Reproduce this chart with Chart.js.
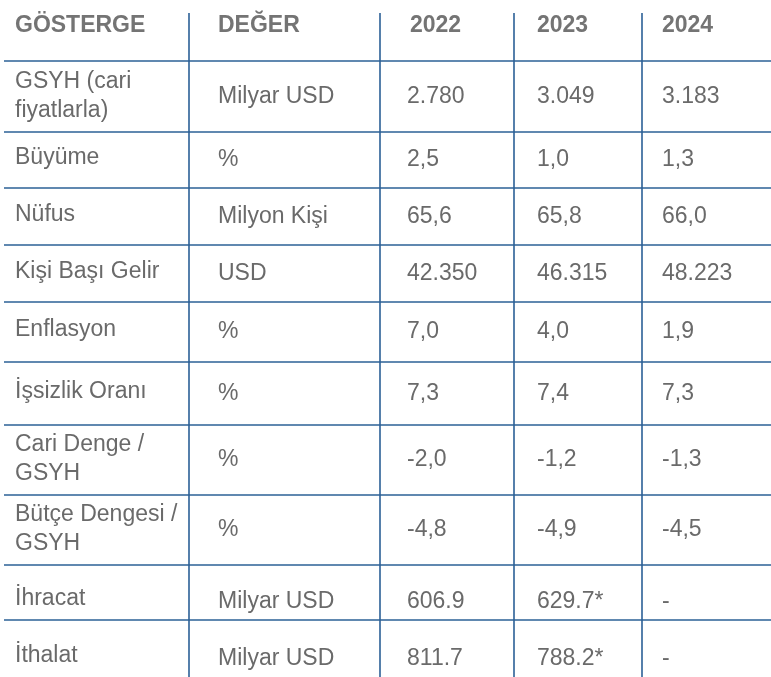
<!DOCTYPE html>
<html><head><meta charset="utf-8">
<script src="https://cdn.jsdelivr.net/npm/chart.js@4/dist/chart.umd.min.js"></script>
<style>html,body{margin:0;padding:0;background:#fff}#w{width:771px;height:677px}</style>
</head><body><div id="w"><canvas id="c"></canvas></div>
<script>
const headers = ["GÖSTERGE","DEĞER","2022","2023","2024"];
const indicators = [["GSYH (cari","fiyatlarla)"],["Büyüme"],["Nüfus"],["Kişi Başı Gelir"],["Enflasyon"],["İşsizlik Oranı"],["Cari Denge /","GSYH"],["Bütçe Dengesi /","GSYH"],["İhracat"],["İthalat"]];
const units = ["Milyar USD","%","Milyon Kişi","USD","%","%","%","%","Milyar USD","Milyar USD"];
const v2022 = ["2.780","2,5","65,6","42.350","7,0","7,3","-2,0","-4,8","606.9","811.7"];
const v2023 = ["3.049","1,0","65,8","46.315","4,0","7,4","-1,2","-4,9","629.7*","788.2*"];
const v2024 = ["3.183","1,3","66,0","48.223","1,9","7,3","-1,3","-4,5","-","-"];
// layout (pixel-space of the hidden scales)
const rowEdges = [61,132,188,245,302,362,425,495,565,620,677];
const colLines = [189,380,514,642];
const textX = [15,218,407,537,662];
const headerX = [15,218,410,537,662];

const plugin = {
  id:'table',
  afterDraw(chart){
    const {ctx, scales:{x,y}} = chart;
    const X=v=>x.getPixelForValue(v), Y=v=>y.getPixelForValue(v);
    ctx.save();
    ctx.strokeStyle='#2b6096'; ctx.lineWidth=1.6;
    rowEdges.slice(0,-1).forEach(r=>{ctx.beginPath();ctx.moveTo(X(4),Y(r));ctx.lineTo(X(771),Y(r));ctx.stroke();});
    colLines.forEach(c=>{ctx.beginPath();ctx.moveTo(X(c),Y(13));ctx.lineTo(X(c),Y(677));ctx.stroke();});
    ctx.textBaseline='middle';
    ctx.fillStyle='#747474'; ctx.font='bold 23px "Liberation Sans", Arial, sans-serif';
    headers.forEach((h,i)=>ctx.fillText(h,X(headerX[i]),Y(26)));
    ctx.fillStyle='#6a6a6a'; ctx.font='23px "Liberation Sans", Arial, sans-serif';
    indicators.forEach((ind,r)=>{
      let top=rowEdges[r], bot=rowEdges[r+1], mid=(top+bot)/2;
      if(r===9) mid=658; if(r===8) mid=601;
      if(ind.length===2){ctx.fillText(ind[0],X(textX[0]),Y(mid-15));ctx.fillText(ind[1],X(textX[0]),Y(mid+14));}
      else ctx.fillText(ind[0],X(textX[0]),Y(mid-2));
      const cy = (r===8||r===9)?mid+1:mid;
      const vals=[units[r],v2022[r],v2023[r],v2024[r]];
      vals.forEach((v,k)=>ctx.fillText(v,X(textX[k+1]),Y(cy)));
    });
    ctx.restore();
  }
};
new Chart(document.getElementById('c'),{
  type:'scatter',
  data:{datasets:[{data:[]}]},
  options:{responsive:true,maintainAspectRatio:false,animation:false,
    layout:{padding:0},
    plugins:{legend:{display:false},tooltip:{enabled:false}},
    scales:{x:{type:'linear',min:0,max:771,display:false},y:{type:'linear',min:0,max:677,reverse:true,display:false}}},
  plugins:[plugin]
});
</script></body></html>
